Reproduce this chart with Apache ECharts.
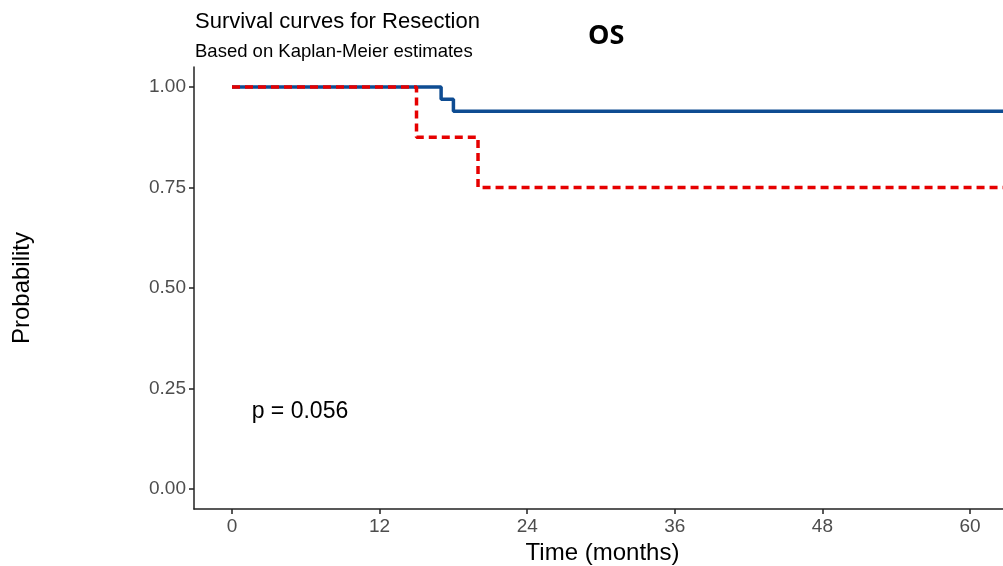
<!DOCTYPE html>
<html>
<head>
<meta charset="utf-8">
<script src="https://cdn.jsdelivr.net/npm/echarts@6/dist/echarts.min.js"></script>
<style>
html,body{margin:0;padding:0;background:#fff;}
#chart{width:1003px;height:566px;}
</style>
</head>
<body>
<div id="chart"></div>
<script>
// Kaplan-Meier step data (time in months, survival probability)
const blueTimes = [0, 17, 18, 70];
const blueSurv  = [1.00, 0.97, 0.94, 0.94];
const redTimes  = [0, 15, 20, 70];
const redSurv   = [1.00, 0.875, 0.75, 0.75];
const xTicks = [0, 12, 24, 36, 48, 60];
const yTicks = [0, 0.25, 0.5, 0.75, 1.0];
const pText = 'p = 0.056';
const pPos = [1.6, 0.197];

const FONT = '"Liberation Sans", Arial, sans-serif';
const chart = echarts.init(document.getElementById('chart'), null, {renderer: 'canvas'});

const zip = (t, s) => t.map((v, i) => [v, s[i]]);

const option = {
  animation: false,
  backgroundColor: '#fff',
  title: [
    {text: 'Survival curves for Resection', left: 190, top: 6,
     textStyle: {fontFamily: FONT, fontSize: 22, fontWeight: 'normal', color: '#000'}},
    {text: 'Based on Kaplan-Meier estimates', left: 190, top: 37,
     textStyle: {fontFamily: FONT, fontSize: 18.5, fontWeight: 'normal', color: '#000'}},
    {text: 'OS', left: 583, top: 18,
     textStyle: {fontFamily: '"Open Sans", sans-serif', fontSize: 27, fontWeight: 'bold', color: '#000'}}
  ],
  grid: {left: 194, right: 0, top: 67, bottom: 57, containLabel: false, outerBoundsMode: 'none'},
  xAxis: {
    type: 'value', min: -3.09, max: 62.68,
    name: 'Time (months)', nameLocation: 'middle', nameGap: 27,
    nameTextStyle: {fontFamily: FONT, fontSize: 24, color: '#000', padding: [0, 0, 0, 8]},
    axisLine: {show: true, onZero: false, lineStyle: {color: '#222', width: 1.5}},
    axisTick: {show: true, length: 5, customValues: xTicks, lineStyle: {color: '#222', width: 1.5}},
    axisLabel: {customValues: xTicks, fontFamily: FONT, fontSize: 19, color: '#4d4d4d', margin: 8},
    splitLine: {show: false}
  },
  yAxis: {
    type: 'value', min: -0.05, max: 1.05,
    name: 'Probability', nameLocation: 'middle', nameGap: 160,
    nameTextStyle: {fontFamily: FONT, fontSize: 24, color: '#000'},
    axisLine: {show: true, onZero: false, lineStyle: {color: '#222', width: 1.5}},
    axisTick: {show: true, length: 5, customValues: yTicks, lineStyle: {color: '#222', width: 1.5}},
    axisLabel: {customValues: yTicks, fontFamily: FONT, fontSize: 19, color: '#4d4d4d', margin: 8,
      padding: [3, 0, 0, 0], formatter: v => v.toFixed(2)},
    splitLine: {show: false}
  },
  series: [
    {type: 'line', step: 'end', data: zip(blueTimes, blueSurv), showSymbol: false, clip: true,
     lineStyle: {color: '#0E4C92', width: 3.5}, z: 2},
    {type: 'line', step: 'end', data: zip(redTimes, redSurv), showSymbol: false, clip: true,
     lineStyle: {color: '#E60000', width: 3.5, type: [8, 5]}, z: 3}
  ]
};
chart.setOption(option);

const pp = chart.convertToPixel({gridIndex: 0}, pPos);
chart.setOption({
  graphic: [{type: 'text', left: pp[0], top: pp[1] - 10,
    style: {text: pText, fontFamily: FONT, fontSize: 23, fill: '#000'}}]
});
</script>
</body>
</html>
